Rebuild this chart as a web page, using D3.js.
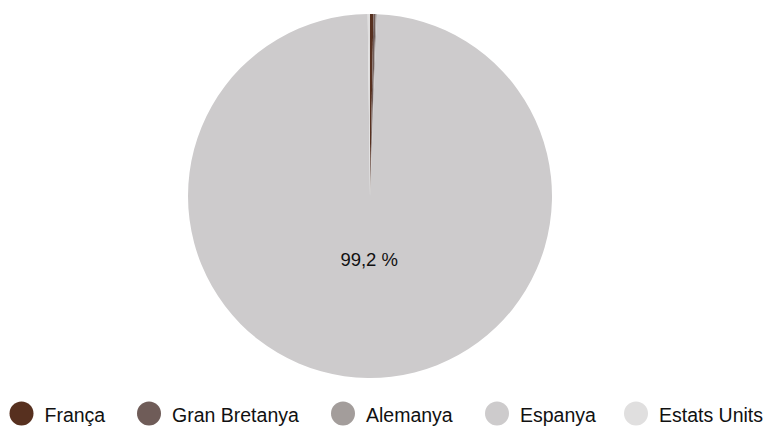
<!DOCTYPE html>
<html><head><meta charset="utf-8">
<script src="https://cdn.jsdelivr.net/npm/d3@7"></script>
<style>body{margin:0;background:#fff}svg{display:block}</style>
</head><body><div id="chart"></div>
<script>
const categories = ["França", "Gran Bretanya", "Alemanya", "Espanya", "Estats Units"];
const values = [0.3, 0.2, 0.1, 99.2, 0.2];
const colors = ["#57301f", "#6f5c58", "#a39d9b", "#cdcbcc", "#e0dfdf"];
const legendX = [21.5, 149, 343, 497, 636];

const W = 768, H = 426;
const svg = d3.select("#chart").append("svg").attr("width", W).attr("height", H);
const cx = 370, cy = 196, R = 182;
const data = categories.map((c, i) => ({c, v: values[i], col: colors[i]}));
const pie = d3.pie().value(d => d.v).sort(null);
const arc = d3.arc().innerRadius(0).outerRadius(R);
const g = svg.append("g").attr("transform", `translate(${cx},${cy})`);
const arcs = pie(data);
g.selectAll("path").data(arcs).enter().append("path")
  .attr("d", arc).attr("fill", d => d.data.col);
const labelArc = d3.arc().innerRadius(R * 0.35).outerRadius(R * 0.35);
g.selectAll("text").data(arcs.filter(d => d.data.v > 5)).enter().append("text")
  .attr("transform", d => { const p = labelArc.centroid(d); return `translate(${p[0]},${p[1]})`; })
  .attr("text-anchor", "middle").attr("dominant-baseline", "central")
  .style("font-family", "Liberation Sans, Arial, sans-serif").style("font-size", "18.5px").attr("fill", "#111")
  .text(d => d3.format(".1f")(d.data.v).replace(".", ",") + " %");

const lg = svg.append("g");
data.forEach((d, i) => {
  lg.append("circle").attr("cx", legendX[i]).attr("cy", 413.5).attr("r", 12).attr("fill", d.col);
  lg.append("text").attr("x", legendX[i] + 23).attr("y", 421.5)
    .style("font-family", "Liberation Sans, Arial, sans-serif").style("font-size", "19.5px").attr("fill", "#111")
    .text(d.c);
});
</script></body></html>
